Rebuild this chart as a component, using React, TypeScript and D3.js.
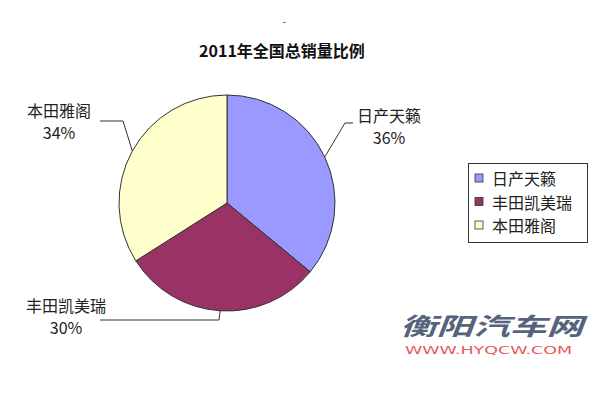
import React from 'react';
import * as d3 from 'd3';

const TITLE = '2011年全国总销量比例';
const CATEGORIES = ['日产天籁', '丰田凯美瑞', '本田雅阁'];
const SHARES = [36, 30, 34];
const COLORS = ['#9999FF', '#993366', '#FFFFCC'];

const WIDTH = 600;
const HEIGHT = 399;
const CX = 227;
const CY = 203;
const R = 108;
const FONT = '"Noto Sans CJK SC", "Noto Sans", sans-serif';

// label text centre + elbow of the leader line, one per slice
const LABEL_LAYOUT = [
  { x: 389, y: 115, elbow: [345, 123], end: [353, 123] },
  { x: 66, y: 305, elbow: [219, 320], end: [100, 320] },
  { x: 59, y: 110, elbow: [123, 121], end: [100, 121] },
];

const App = (): JSX.Element => {
  const data = CATEGORIES.map((name, i) => ({ name, value: SHARES[i], color: COLORS[i] }));
  const total = d3.sum(SHARES);
  const pie = d3
    .pie<{ name: string; value: number; color: string }>()
    .sort(null)
    .value((d) => d.value)
    .startAngle(0)
    .endAngle(2 * Math.PI);
  const arcs = pie(data);
  const arc = d3.arc<d3.PieArcDatum<{ name: string; value: number; color: string }>>()
    .innerRadius(0)
    .outerRadius(R);

  return (
    <svg
      width={WIDTH}
      height={HEIGHT}
      viewBox={`0 0 ${WIDTH} ${HEIGHT}`}
      style={{ position: 'absolute', left: 0, top: 0, background: '#fff' }}
    >
      <rect x={283} y={22} width={3} height={1} fill="#777" />
      <text
        x={282}
        y={50}
        textAnchor="middle"
        dominantBaseline="central"
        fontFamily={FONT}
        fontWeight="bold"
        fontSize={16}
        fill="#111"
      >
        {TITLE}
      </text>

      <g transform={`translate(${CX},${CY})`}>
        {arcs.map((a) => (
          <path key={a.data.name} d={arc(a) || ''} fill={a.data.color} stroke="#333" strokeWidth={1} />
        ))}
      </g>

      {arcs.map((a, i) => {
        const mid = (a.startAngle + a.endAngle) / 2;
        const ex = CX + R * Math.sin(mid);
        const ey = CY - R * Math.cos(mid);
        const L = LABEL_LAYOUT[i];
        const pct = `${d3.format('.0f')((a.data.value / total) * 100)}%`;
        return (
          <g key={a.data.name}>
            <polyline
              points={`${ex},${ey} ${L.elbow[0]},${L.elbow[1]} ${L.end[0]},${L.end[1]}`}
              fill="none"
              stroke="#333"
              strokeWidth={1}
            />
            <text
              x={L.x}
              y={L.y}
              textAnchor="middle"
              dominantBaseline="central"
              fontFamily={FONT}
              fontSize={16}
              fill="#222"
            >
              {a.data.name}
            </text>
            <text
              x={L.x}
              y={L.y + 22}
              textAnchor="middle"
              dominantBaseline="central"
              fontFamily={FONT}
              fontSize={16}
              fill="#222"
            >
              {pct}
            </text>
          </g>
        );
      })}

      <g>
        <rect x={468.5} y={163.5} width={119} height={79} fill="#fff" stroke="#333" strokeWidth={1} />
        {data.map((d, i) => (
          <g key={d.name} transform={`translate(475, ${178 + i * 23.5})`}>
            <rect x={0} y={-4} width={8} height={8} fill={d.color} stroke="#333" strokeWidth={0.8} />
            <text x={17} y={0} dominantBaseline="central" fontFamily={FONT} fontSize={16} fill="#222">
              {d.name}
            </text>
          </g>
        ))}
      </g>

      <text
        x={400}
        y={324}
        dominantBaseline="central"
        fontFamily={FONT}
        fontWeight="bold"
        fontStyle="italic"
        fontSize={24}
        textLength={183}
        lengthAdjust="spacingAndGlyphs"
        fill="#55637c"
      >
        衡阳汽车网
      </text>
      <text
        x={405}
        y={350}
        dominantBaseline="central"
        fontFamily='"DejaVu Sans", sans-serif'
        fontSize={11}
        textLength={167}
        lengthAdjust="spacingAndGlyphs"
        fill="#e85a5a"
      >
        WWW.HYQCW.COM
      </text>
    </svg>
  );
};

export default App;
